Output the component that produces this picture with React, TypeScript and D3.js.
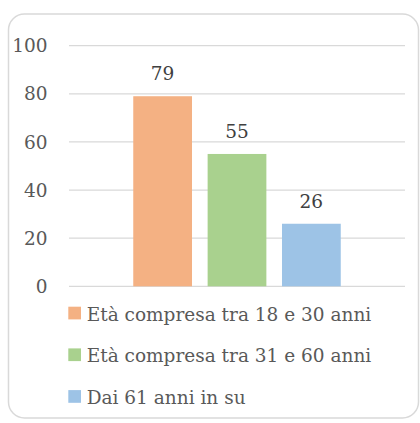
import { useMemo } from 'react';
import * as d3 from 'd3';

const series = ['Età compresa tra 18 e 30 anni', 'Età compresa tra 31 e 60 anni', 'Dai 61 anni in su'];
const values = [79, 55, 26];
const colors = ['#F4B183', '#A9D18E', '#9DC3E6'];
const yTickValues = [0, 20, 40, 60, 80, 100];

const textStyle = { fontFamily: "'DejaVu Serif', serif", fontSize: '18.5px' };

const App = () => {
  const x = useMemo(
    () => d3.scaleBand<string>().domain(series).range([69, 405]).paddingInner(0.21).paddingOuter(0.864),
    []
  );
  const y = useMemo(() => d3.scaleLinear().domain([0, 100]).range([286.3, 45.7]), []);

  return (
    <svg width="420" height="423" style={{ position: 'absolute', left: 0, top: 0 }}>
      <rect x="0" y="0" width="420" height="423" fill="#ffffff" />
      {/* frame */}
      <rect x="8.5" y="14" width="410" height="404" rx="16" ry="16" fill="#ffffff" stroke="#d9d9d9" strokeWidth="1.5" />

      {/* gridlines + y tick labels */}
      {yTickValues.map((t) => (
        <g key={t} transform={`translate(0, ${y(t)})`}>
          <line x1="69" x2="405" stroke="#d9d9d9" strokeWidth="1.3" />
          <text x="47.5" dy="0.36em" textAnchor="end" style={textStyle} fill="#595959">
            {t}
          </text>
        </g>
      ))}

      {/* bars */}
      {series.map((s, i) => (
        <g key={s}>
          <rect x={x(s)} y={y(values[i])} width={x.bandwidth()} height={y(0) - y(values[i])} fill={colors[i]} />
          <text
            x={(x(s) ?? 0) + x.bandwidth() / 2}
            y={y(values[i]) - 16}
            textAnchor="middle"
            style={textStyle}
            fill="#404040"
          >
            {values[i]}
          </text>
        </g>
      ))}

      {/* legend */}
      {series.map((s, i) => (
        <g key={`lg-${s}`} transform={`translate(68.3, ${306.7 + i * 41.7})`}>
          <rect width="12.7" height="12.7" fill={colors[i]} />
          <text x="18.4" y="13.8" style={textStyle} fill="#595959">
            {s}
          </text>
        </g>
      ))}
    </svg>
  );
};

export default App;
